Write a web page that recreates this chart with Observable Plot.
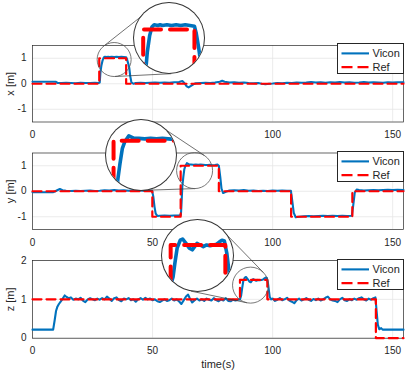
<!DOCTYPE html>
<html><head><meta charset="utf-8">
<script src="https://cdn.jsdelivr.net/npm/d3@7"></script>
<script src="https://cdn.jsdelivr.net/npm/@observablehq/plot@0.6"></script>
<style>
body{margin:0;background:#fff;}
#fig{position:relative;width:407px;height:371px;overflow:hidden;background:#fff;font-family:"Liberation Sans",Arial,sans-serif;}
#fig > svg{position:absolute;left:0;top:0;}
</style></head><body><div id="fig"></div>
<script>
// ---------- data ----------
const tDomain = [0, 154.5];
const tTicks = [0, 50, 100, 150];
const xyTicks = [-1, 0, 1];
const zTicks = [0, 1, 2];
const seriesNames = ["Vicon", "Ref"];

const xT = [0,9.6,10.5,12,14,16,18,20,22,24,26,27.5,28.0,28.3,28.7,29.2,29.7,30.2,31,31.5,32,33,34,35,36,37,38,39.0,39.4,39.9,40.3,40.7,41.2,42,43,45,47,49,51,53,55,57,59,61,62.4,63.3,64.2,65,66,67,68,70,72,74,76,78,79,80,82,84,86,88,90,92,94,95.5,97,98.5,100,102,104,106,108,110,112,114,116,118,120,122,124,126,128,130,132,134,136,138,140,142,144,146,148,150,152,154.5];
const xV = [0.08,0.08,0.03,0.03,0.04,0.03,0.02,0.04,0.03,0.03,0.04,0.03,0.05,0.45,0.72,0.92,1.03,1.06,1.05,1.06,1.05,1.06,1.05,1.06,1.05,1.06,1.05,1.04,0.95,0.78,0.62,0.3,0.05,0.0,0.03,0.04,0.03,0.04,0.05,0.04,0.05,0.04,0.06,0.07,0.11,0.02,-0.1,-0.14,-0.08,-0.02,0.02,0.03,0.04,0.03,0.05,0.08,0.12,0.08,0.05,0.06,0.04,0.05,0.03,0.02,0.03,0.0,-0.02,0.0,0.01,0.03,0.02,0.04,0.03,0.05,0.04,0.05,0.07,0.05,0.06,0.04,0.06,0.05,0.07,0.05,0.06,0.04,0.05,0.07,0.05,0.06,0.05,0.04,0.06,0.05,0.06,0.06];
const xRefT = [0, 27.8, 39, 154.5];
const xRefV = [0, 1, 0, 0];

const yT = [0,8.5,9.5,10.5,11.4,12.5,14,16,18,20,22,24,26,28,30,32,34,36,38,40,42,44,46,48,49.8,50.3,50.8,51.3,52,53,55,57,59,61,61.8,62.0,62.2,62.4,62.8,63.2,63.6,64.3,65.2,66,67,68,69,70,71,72,73,74,75,76,77,77.6,78.2,78.7,79.4,80.5,82,84,86,88,90,92,94,96,98,100,102,104,106,107.6,108.2,108.8,109.6,111,113,115,117,119,121,123,125,127,129,131,133,133.5,134.2,135,136,138,140,142,144,146,148,150,152,154.5];
const yV = [-0.04,-0.04,0.0,0.05,0.09,0.04,0.02,0.01,0.02,0.01,0.02,0.03,0.01,0.02,0.04,0.03,0.05,0.03,0.04,0.02,0.04,0.03,0.02,0.03,0.02,-0.2,-0.6,-0.88,-0.97,-0.96,-0.95,-0.96,-0.95,-0.94,-0.93,-0.6,-0.2,0.2,0.55,0.85,0.98,1.1,1.05,1.05,1.04,1.05,1.04,1.05,1.04,1.03,1.03,1.04,1.02,1.03,1.05,1.0,0.55,0.1,-0.07,-0.02,0.03,0.04,0.03,0.05,0.02,0.03,0.01,0.02,0.01,0.03,0.02,0.03,0.02,0.02,-0.4,-0.85,-1.02,-1.0,-0.98,-0.97,-0.98,-0.97,-0.96,-0.97,-0.96,-0.97,-0.96,-0.97,-0.96,-0.6,-0.05,0.07,0.05,0.03,0.04,0.05,0.04,0.05,0.06,0.05,0.06,0.05];
const yRefT = [0, 49.9, 61.7, 77.6, 107.7, 133.2, 154.5];
const yRefV = [0, -1, 1, 0, -1, 0, 0];

const zT = [0,8.6,9.2,9.8,10.3,11,11.8,12.6,13.4,14.2,
15,16,17,18,19,20,21,22,23,24,
25,26,27,28,29,30,31,32,33,34,
35,36,37,38,39,40,41,42,43,44,
45,46,47,48,49,50,51,52,53,54,
55,56,57,58,59,60,61,62,63,64,
64.8,65.5,66.5,67.5,68.5,69.5,70.5,71.5,72.5,73.5,
74.5,75.5,76.5,77.5,78.5,79.5,80.5,81.5,82.5,83.5,
84.5,85.5,86.4,86.9,87.3,87.75,88.4,88.9,89.6,90.3,
90.9,91.4,91.9,92.5,93.2,93.9,94.6,95.3,96.0,96.6,
97.1,97.6,98.1,98.5,98.8,99.4,100,101,102,103,
104,105,106,107,108,109,110,111,112,113,
114,115,116,117,118,119,120,121,122,123,
124,125,126,127,128,129,130,131,132,133,
134,135,136,137,138,139,140,141,142,142.8,
143.3,143.8,144.4,145.2,145.8,154.5];
const zV = [0.22,0.22,0.45,0.7,0.8,0.88,0.95,1.02,1.1,1.06,
1.03,1.05,0.99,1.02,1.0,1.04,0.97,0.93,1.0,1.03,
1.0,0.98,1.02,0.99,1.03,1.0,1.07,1.02,0.96,1.03,
1.05,0.98,0.95,1.02,1.0,1.03,0.98,1.0,0.94,1.0,
1.03,0.99,1.04,1.0,1.02,0.98,1.0,0.95,0.93,0.97,
1.0,0.96,0.98,1.02,0.97,1.0,0.95,0.88,0.98,1.08,
1.12,1.03,0.92,0.98,1.02,0.97,1.0,0.96,1.02,0.99,
0.97,1.03,0.98,0.95,1.0,0.97,1.03,0.96,0.95,0.99,
0.97,0.99,1.0,1.1,1.28,1.46,1.56,1.575,1.52,1.46,
1.44,1.48,1.52,1.5,1.48,1.5,1.49,1.5,1.51,1.54,
1.56,1.55,1.4,1.2,1.06,1.0,1.02,0.96,0.99,1.03,
0.98,1.0,1.04,0.97,0.94,0.9,0.98,1.02,0.97,1.0,
1.03,0.99,0.96,1.01,0.98,1.02,0.97,1.0,1.04,1.07,
1.0,0.97,0.96,0.93,1.0,1.04,0.98,0.96,1.0,0.98,
1.02,0.99,1.03,1.05,1.0,0.97,1.02,0.99,1.03,1.05,
0.7,0.35,0.23,0.26,0.22,0.22];
const zRefT = [0, 86.4, 97.8, 143, 154.5];
const zRefV = [1, 1.5, 1, 0, 0];

// ---------- layout ----------
const W = 407, H = 371, ML = 32, MR = 4;
const BLUE = "#0072BD", RED = "#FF0000", INK = "#262626";
const fig = document.getElementById("fig");
const zip = (T, V) => T.map((t, i) => ({t, v: V[i]}));

const panels = [
  {label: "x [m]", top: 45, bottom: 121.5, yDomain: [-1.5, 1.5], ticks: xyTicks,
   vic: zip(xT, xV), ref: zip(xRefT, xRefV), showTime: false,
   lens: {t: 34, v: 0.95, r: 17}, big: {t: 57.05, v: 1.765, r: 35},
   inset: {t: [25.9, 41.2], v: [0.45, 1.325]}, legendTop: 43.3},
  {label: "y [m]", top: 152.5, bottom: 229, yDomain: [-1.5, 1.5], ticks: xyTicks,
   vic: zip(yT, yV), ref: zip(yRefT, yRefV), showTime: false,
   lens: {t: 67.5, v: 0.81, r: 18}, big: {t: 45.2, v: 1.406, r: 35},
   inset: {t: [60.5, 72.4], v: [0.0, 1.41]}, legendTop: 150.7},
  {label: "z [m]", top: 260, bottom: 337.7, yDomain: [0, 2], ticks: zTicks,
   vic: zip(zT, zV), ref: zip(zRefT, zRefV), showTime: true,
   lens: {t: 90.8, v: 1.366, r: 18}, big: {t: 69.0, v: 2.106, r: 35.5},
   inset: {t: [84.7, 99.5], v: [0.919, 1.806]}, legendTop: 259.3}
];

const fmt = d => String(d);
const insets = [];

for (const p of panels) {
  const fx = d3.scaleLinear(tDomain, [ML, W - MR]);
  const fy = d3.scaleLinear(p.yDomain, [p.bottom, p.top]);
  const s = [fx(p.lens.t), fy(p.lens.v)], b = [fx(p.big.t), fy(p.big.v)];
  const r = p.lens.r, R = p.big.r;
  const dx = b[0] - s[0], dy = b[1] - s[1];
  const dist = Math.hypot(dx, dy), base = Math.atan2(dy, dx), off = Math.acos((R - r) / dist);
  const tangents = [base + off, base - off].map(a => {
    const nx = Math.cos(a), ny = Math.sin(a);
    return {t1: fx.invert(s[0] - r * nx), v1: fy.invert(s[1] - r * ny),
            t2: fx.invert(b[0] - R * nx), v2: fy.invert(b[1] - R * ny)};
  });

  const marks = [
    Plot.ruleX(tTicks.filter(t => t > 0), {stroke: "#e6e6e6", strokeWidth: 0.8}),
    Plot.ruleY(p.ticks, {stroke: "#e6e6e6", strokeWidth: 0.8}),
    Plot.frame({stroke: INK, strokeWidth: 0.7}),
    Plot.line(p.vic, {x: "t", y: "v", stroke: BLUE, strokeWidth: 2.1}),
    Plot.line(p.ref, {x: "t", y: "v", curve: "step-after", stroke: RED, strokeWidth: 2.2, strokeDasharray: "9,5"}),
    Plot.text([p.label], {frameAnchor: "left", rotate: -90, dx: -22.5, fontSize: 11, textAnchor: "middle", lineAnchor: "middle", fill: INK}),
    Plot.link(tangents, {x1: "t1", y1: "v1", x2: "t2", y2: "v2", stroke: "#333", strokeWidth: 0.7}),
    Plot.dot([p.lens], {x: "t", y: "v", r: r, stroke: "#555", strokeWidth: 0.8, fill: "none"})
  ];
  if (p.showTime) marks.push(Plot.text(["time(s)"], {frameAnchor: "bottom", dy: 26.3, fontSize: 11, textAnchor: "middle", lineAnchor: "middle", fill: INK}));

  const svg = Plot.plot({
    width: W, height: H,
    marginLeft: ML, marginRight: MR, marginTop: p.top, marginBottom: H - p.bottom,
    x: {domain: tDomain, ticks: tTicks, tickSize: 0, tickPadding: 9, tickFormat: fmt, label: null},
    y: {domain: p.yDomain, ticks: p.ticks, tickSize: 0, tickPadding: 6, tickFormat: fmt, label: null},
    style: {background: "none", overflow: "visible", fontSize: "10px", fontFamily: "'Liberation Sans', Arial, sans-serif", color: INK},
    marks
  });
  svg.style.position = "absolute"; svg.style.left = "0px"; svg.style.top = "0px";
  svg.style.background = "none";
  fig.appendChild(svg);

  // magnified inset
  const ins = Plot.plot({
    width: 2 * R, height: 2 * R, margin: 0,
    x: {domain: p.inset.t, axis: null},
    y: {domain: p.inset.v, axis: null},
    marks: [
      Plot.line(p.vic, {x: "t", y: "v", stroke: BLUE, strokeWidth: 3.6}),
      Plot.line(p.ref, {x: "t", y: "v", curve: "step-after", stroke: RED, strokeWidth: 4.0, strokeDasharray: "17,9"})
    ]
  });
  Object.assign(ins.style, {position: "absolute", left: (b[0] - R) + "px", top: (b[1] - R) + "px",
    borderRadius: "50%", background: "#fff", boxShadow: "0 0 0 1px #333", overflow: "hidden", maxWidth: "none"});
  insets.push(ins);

  // legend
  const lg = document.createElement("div");
  lg.style.cssText = `position:absolute;left:337px;top:${p.legendTop}px;width:65px;height:29px;border:0.8px solid ${INK};background:#fff;`;
  lg.innerHTML = `<svg width="65" height="29" style="position:absolute;left:0;top:0;font-family:'Liberation Sans',Arial,sans-serif;font-size:11px;">
    <line x1="3.5" x2="31" y1="9.4" y2="9.4" stroke="${BLUE}" stroke-width="2.1"/>
    <line x1="3.5" x2="31" y1="23.2" y2="23.2" stroke="${RED}" stroke-width="2.2" stroke-dasharray="11,5"/>
    <text x="34.5" y="13.3" fill="${INK}">${seriesNames[0]}</text>
    <text x="34.5" y="27.1" fill="${INK}">${seriesNames[1]}</text></svg>`;
  fig.appendChild(lg);
}
for (const ins of insets) fig.appendChild(ins);
</script></body></html>
